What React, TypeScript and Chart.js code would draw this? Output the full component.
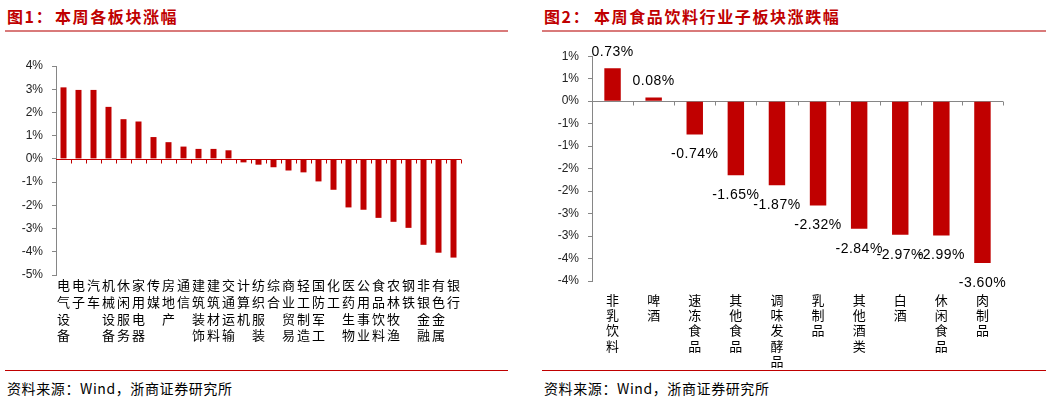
import React, { useEffect, useRef } from "react";
import { Chart, registerables } from "chart.js";

Chart.register(...registerables);

// ---------- Data: Figure 1 ----------
const sectorNames = [
  "电气设备", "电子", "汽车", "机械设备", "休闲服务", "家用电器", "传媒", "房地产", "通信",
  "建筑装饰", "建筑材料", "交通运输", "计算机", "纺织服装", "综合", "商业贸易", "轻工制造",
  "国防军工", "化工", "医药生物", "公用事业", "食品饮料", "农林牧渔", "钢铁", "非银金融",
  "有色金属", "银行",
];
const sectorChanges = [
  3.08, 2.97, 2.97, 2.24, 1.71, 1.61, 0.94, 0.72, 0.53, 0.43, 0.43, 0.37,
  -0.15, -0.25, -0.36, -0.5, -0.58, -0.97, -1.33, -2.09, -2.19, -2.54, -2.71,
  -2.97, -3.7, -4.04, -4.25,
];
const sectorTickValues = [4, 3, 2, 1, 0, -1, -2, -3, -4, -5];
const sectorTickLabels = ["4%", "3%", "2%", "1%", "0%", "-1%", "-2%", "-3%", "-4%", "-5%"];

// ---------- Data: Figure 2 ----------
const foodNames = [
  "非乳饮料", "啤酒", "速冻食品", "其他食品", "调味发酵品", "乳制品", "其他酒类", "白酒", "休闲食品", "肉制品",
];
const foodChanges = [0.73, 0.08, -0.74, -1.65, -1.87, -2.32, -2.84, -2.97, -2.99, -3.6];
const foodValueLabels = ["0.73%", "0.08%", "-0.74%", "-1.65%", "-1.87%", "-2.32%", "-2.84%", "-2.97%", "-2.99%", "-3.60%"];
const foodTickValues = [1, 0.5, 0, -0.5, -1, -1.5, -2, -2.5, -3, -3.5, -4];
const foodTickLabels = ["1%", "1%", "0%", "-1%", "-1%", "-2%", "-2%", "-3%", "-3%", "-4%", "-4%"];

const RED = "#c00000";
const GREY = "#868686";
const CJK = '"Noto Sans CJK SC", "Noto Sans", sans-serif';
const LATIN = '"Liberation Sans", Arial, sans-serif';

function pickLabel(values: number[], labels: string[], v: number) {
  const i = values.findIndex((t) => Math.abs(t - v) < 1e-6);
  return i >= 0 ? labels[i] : "";
}

function zeroAxisPlugin(color: string) {
  return {
    id: "zeroAxis",
    beforeDatasetsDraw(chart: any) {
      const { ctx, chartArea, scales } = chart;
      const y0 = Math.round(scales.y.getPixelForValue(0)) + 0.5;
      const n = chart.data.labels.length;
      ctx.save();
      ctx.strokeStyle = color;
      ctx.lineWidth = 1;
      ctx.beginPath();
      ctx.moveTo(chartArea.left, y0);
      ctx.lineTo(chartArea.right, y0);
      for (let i = 1; i <= n; i++) {
        const x = Math.round(scales.x.getPixelForValue(i - 0.5)) + 0.5;
        ctx.moveTo(x, y0);
        ctx.lineTo(x, y0 + 4);
      }
      ctx.stroke();
      ctx.restore();
    },
  };
}

const valueLabelPlugin = {
  id: "valueLabels",
  afterDatasetsDraw(chart: any) {
    const { ctx } = chart;
    const meta = chart.getDatasetMeta(0);
    ctx.save();
    ctx.font = `14px ${LATIN}`;
    try {
      (ctx as any).letterSpacing = "0.5px";
    } catch (e) {}
    ctx.fillStyle = "#000";
    ctx.textAlign = "center";
    ctx.textBaseline = "middle";
    meta.data.forEach((el: any, i: number) => {
      const v = foodChanges[i];
      const y = v >= 0 ? el.y - 16 : el.y + 20;
      ctx.fillText(foodValueLabels[i], el.x, y);
    });
    ctx.restore();
  },
};

function BarChart(props: {
  names: string[];
  values: number[];
  min: number;
  max: number;
  step: number;
  tickValues: number[];
  tickLabels: string[];
  width: number;
  height: number;
  yWidth: number;
  xHeight: number;
  padTop: number;
  padRight: number;
  labelSize: number;
  labelLine: number;
  labelPad: number;
  axisColor: string;
  withValues: boolean;
}) {
  const ref = useRef<HTMLCanvasElement | null>(null);
  useEffect(() => {
    if (!ref.current) return;
    const plugins: any[] = [zeroAxisPlugin(props.axisColor)];
    if (props.withValues) plugins.push(valueLabelPlugin);
    const chart = new Chart(ref.current, {
      type: "bar",
      data: {
        labels: props.names.map((n) => n.split("")),
        datasets: [
          {
            data: props.values,
            backgroundColor: RED,
            borderWidth: 0,
            categoryPercentage: 1,
            barPercentage: 0.4,
          },
        ],
      },
      options: {
        animation: false,
        responsive: false,
        events: [],
        layout: { padding: { top: props.padTop, right: props.padRight, left: 0, bottom: 0 } },
        plugins: { legend: { display: false }, tooltip: { enabled: false } },
        scales: {
          x: {
            grid: { display: false, drawTicks: false },
            border: { display: false },
            ticks: {
              autoSkip: false,
              maxRotation: 0,
              minRotation: 0,
              padding: props.labelPad,
              color: "#000",
              font: { family: CJK, size: props.labelSize, lineHeight: props.labelLine },
            },
            afterFit: (s: any) => {
              s.height = props.xHeight;
            },
          },
          y: {
            min: props.min,
            max: props.max,
            border: { display: true, color: GREY },
            grid: { drawOnChartArea: false, drawTicks: true, tickLength: 4, color: GREY },
            ticks: {
              stepSize: props.step,
              padding: 9,
              color: "#222",
              font: { family: LATIN, size: 12 },
              callback: (v: any) => pickLabel(props.tickValues, props.tickLabels, Number(v)),
            },
            afterFit: (s: any) => {
              s.width = props.yWidth;
            },
          },
        },
      },
      plugins,
    } as any);
    return () => chart.destroy();
  }, []);
  return (
    <canvas
      ref={ref}
      width={props.width}
      height={props.height}
      style={{ display: "block", width: props.width, height: props.height }}
    />
  );
}

const titleStyle: React.CSSProperties = {
  position: "absolute",
  fontFamily: CJK,
  fontWeight: 700,
  fontSize: 16,
  letterSpacing: 1.6,
  color: RED,
  lineHeight: "20px",
  whiteSpace: "nowrap",
};
const sourceStyle: React.CSSProperties = {
  position: "absolute",
  fontFamily: CJK,
  fontSize: 14,
  letterSpacing: 0.6,
  color: "#000",
  lineHeight: "18px",
  whiteSpace: "nowrap",
};

export default function App() {
  return (
    <div
      style={{
        position: "absolute",
        left: 0,
        top: 0,
        width: 1058,
        height: 402,
        background: "#fff",
        overflow: "hidden",
      }}
    >
      {/* Figure 1 */}
      <div style={{ ...titleStyle, left: 7, top: 6 }}>图1：</div>
      <div style={{ ...titleStyle, left: 55, top: 6 }}>本周各板块涨幅</div>
      <div style={{ position: "absolute", left: 5, top: 30, width: 503, height: 2, background: "#d97a7a" }} />
      <div style={{ position: "absolute", left: 0, top: 40 }}>
        <BarChart
          names={sectorNames}
          values={sectorChanges}
          min={-5}
          max={4}
          step={1}
          tickValues={sectorTickValues}
          tickLabels={sectorTickLabels}
          width={470}
          height={330}
          yWidth={56}
          xHeight={95}
          padTop={26}
          padRight={9}
          labelSize={13}
          labelLine={1.28}
          labelPad={2}
          axisColor={RED}
          withValues={false}
        />
      </div>
      <div style={{ position: "absolute", left: 5, top: 370, width: 503, height: 1, background: RED }} />
      <div style={{ ...sourceStyle, left: 7, top: 379 }}>资料来源：Wind，浙商证券研究所</div>

      {/* Figure 2 */}
      <div style={{ ...titleStyle, left: 544, top: 6 }}>图2：</div>
      <div style={{ ...titleStyle, left: 594, top: 6 }}>本周食品饮料行业子板块涨跌幅</div>
      <div style={{ position: "absolute", left: 542, top: 30, width: 504, height: 2, background: "#d97a7a" }} />
      <div style={{ position: "absolute", left: 529, top: 40 }}>
        <BarChart
          names={foodNames}
          values={foodChanges}
          min={-4}
          max={1}
          step={0.5}
          tickValues={foodTickValues}
          tickLabels={foodTickLabels}
          width={490}
          height={330}
          yWidth={63}
          xHeight={89}
          padTop={15}
          padRight={16}
          labelSize={13}
          labelLine={1.18}
          labelPad={11}
          axisColor={GREY}
          withValues={true}
        />
      </div>
      <div style={{ position: "absolute", left: 542, top: 370, width: 504, height: 1, background: RED }} />
      <div style={{ ...sourceStyle, left: 544, top: 379 }}>资料来源：Wind，浙商证券研究所</div>
    </div>
  );
}
